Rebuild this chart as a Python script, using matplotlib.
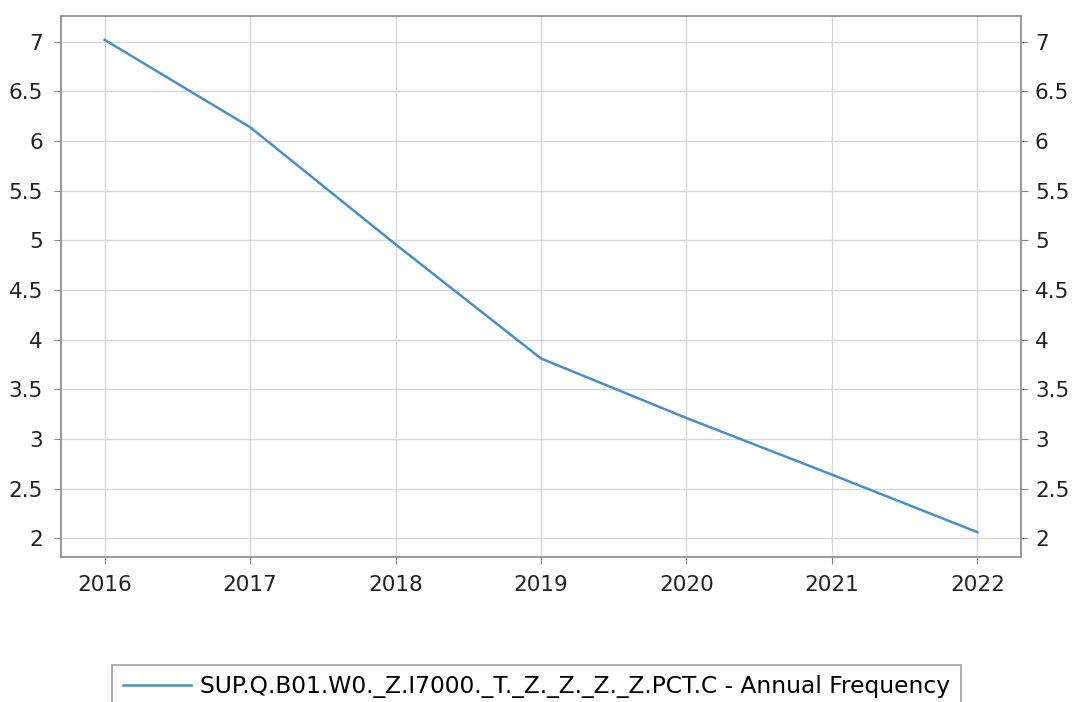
import matplotlib
matplotlib.use("Agg")
import matplotlib.pyplot as plt

plt.rcParams['font.family'] = ['DejaVu Sans']

years = [2016, 2017, 2018, 2019, 2020, 2021, 2022]
values = [7.02, 6.14, 4.96, 3.81, 3.21, 2.64, 2.06]
series_label = "SUP.Q.B01.W0._Z.I7000._T._Z._Z._Z._Z.PCT.C - Annual Frequency"
yticks = [2, 2.5, 3, 3.5, 4, 4.5, 5, 5.5, 6, 6.5, 7]
ytick_labels = ["2", "2.5", "3", "3.5", "4", "4.5", "5", "5.5", "6", "6.5", "7"]

fig = plt.figure(figsize=(10.73, 7.02), dpi=100)
ax = fig.add_axes([61/1073, 1 - 557/702, (1021-61)/1073, (557-16)/702])

ax.plot(years, values, color='#4a90c8', linewidth=1.8, label=series_label)
ax.set_xlim(2015.70, 2022.30)
ax.set_ylim(1.81, 7.26)
ax.set_xticks(years)
ax.set_xticklabels([str(y) for y in years])
ax.set_yticks(yticks)
ax.set_yticklabels(ytick_labels)
ax.grid(True, color='#d9d9d9', linewidth=1.0)
ax.set_axisbelow(True)
for s in ax.spines.values():
    s.set_color('#888888')
    s.set_linewidth(1.2)
ax.tick_params(axis='both', colors='#888888', labelcolor='#222222', labelsize=15.5, length=5, direction='out')
ax.tick_params(axis='x', pad=8)
ax.tick_params(axis='y', pad=8)

ax2 = ax.twinx()
ax2.set_ylim(ax.get_ylim())
ax2.set_yticks(yticks)
ax2.set_yticklabels(ytick_labels)
for s in ax2.spines.values():
    s.set_visible(False)
ax2.tick_params(axis='y', colors='#888888', labelcolor='#222222', labelsize=15.5, length=5, direction='out', pad=5)

leg = fig.legend(loc='upper center', bbox_to_anchor=(0.5, 1 - 665/702), frameon=True, fancybox=False,
                 fontsize=16.8, handlelength=2.9, handletextpad=0.4, borderpad=0.45, borderaxespad=0)
leg.get_frame().set_edgecolor('#888888')
leg.get_frame().set_linewidth(1.2)

fig.savefig('out.png', dpi=100)
